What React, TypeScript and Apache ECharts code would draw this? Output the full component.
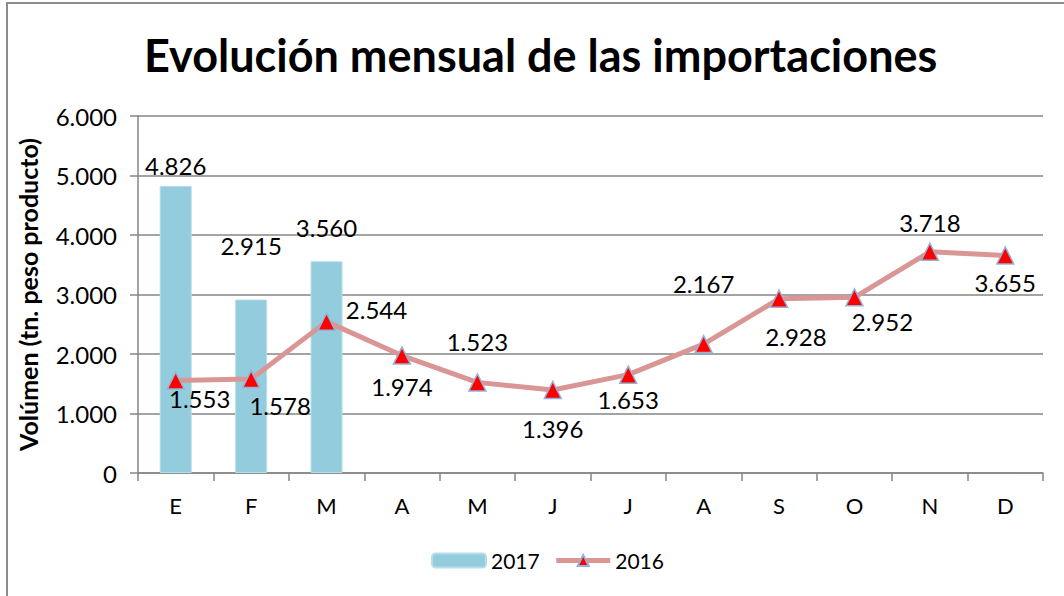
import React, { useEffect, useRef } from "react";
import * as echarts from "echarts";

const months = ["E", "F", "M", "A", "M", "J", "J", "A", "S", "O", "N", "D"];
const values2017 = [4826, 2915, 3560];
const values2016 = [1553, 1578, 2544, 1974, 1523, 1396, 1653, 2167, 2928, 2952, 3718, 3655];
const yTicks = [0, 1000, 2000, 3000, 4000, 5000, 6000];

// label placement (style only)
const barLabelOffsets = [[0, 4], [0, -30], [0, -10]];
const lineLabelPos: [string, number, number][] = [
  ["bottom", 24, -11],
  ["bottom", 29, -3],
  ["right", 2, -12],
  ["bottom", 0, 2],
  ["top", 0, -12],
  ["bottom", 0, 9],
  ["bottom", 0, -4],
  ["top", 0, -31],
  ["bottom", 17, 8],
  ["bottom", 28, -5],
  ["top", 0, 0],
  ["bottom", 0, -2],
];

const fmt = (v: number) => {
  const s = String(Math.round(v));
  return s.replace(/\B(?=(\d{3})+(?!\d))/g, ".");
};

const FONT = "Lato, 'Open Sans', sans-serif";

export default function App() {
  const ref = useRef<HTMLDivElement>(null);
  useEffect(() => {
    if (!ref.current) return;
    const chart = echarts.init(ref.current, null, { renderer: "svg" });
    chart.setOption({
      animation: false,
      backgroundColor: "#ffffff",
      textStyle: { fontFamily: FONT },
      title: {
        text: "Evolución mensual de las importaciones",
        left: 139,
        top: 27,
        textStyle: { fontSize: 45, fontWeight: "bold", color: "#000", fontFamily: FONT },
      },
      graphic: [
        {
          type: "rect",
          shape: { x: 7, y: 3, width: 1200, height: 800 },
          style: { fill: "none", stroke: "#8c8c8c", lineWidth: 2 },
          silent: true,
        },
      ],
      legend: {
        bottom: 20,
        left: 426,
        itemWidth: 54,
        itemHeight: 14,
        itemGap: 14,
        textStyle: { fontSize: 21, color: "#000", fontFamily: FONT },
        data: [
          { name: "2017" },
          { name: "2016", lineStyle: { width: 5, color: "#D99694" } },
        ],
      },
      grid: { left: 138, right: 21, top: 116, bottom: 123, containLabel: false },
      xAxis: {
        type: "category",
        data: months,
        axisLine: { lineStyle: { color: "#868686", width: 1.5 } },
        axisTick: { show: true, length: 8, lineStyle: { color: "#868686", width: 1.5 } },
        axisLabel: { fontSize: 22, color: "#000", margin: 21, fontFamily: FONT },
      },
      yAxis: {
        type: "value",
        min: 0,
        max: 6000,
        interval: 1000,
        name: "Volúmen (tn. peso producto)",
        nameLocation: "middle",
        nameGap: 98,
        nameTextStyle: { fontSize: 25, fontWeight: "bold", color: "#000", fontFamily: FONT },
        axisLine: { show: true, lineStyle: { color: "#868686", width: 1.5 } },
        axisTick: { show: true, length: 8, lineStyle: { color: "#868686", width: 1.5 } },
        splitLine: { lineStyle: { color: "#868686", width: 1.5 } },
        axisLabel: {
          fontSize: 24,
          color: "#000",
          margin: 21,
          fontFamily: FONT,
          formatter: (v: number) => (yTicks.includes(v) ? fmt(v) : ""),
        },
      },
      series: [
        {
          name: "2017",
          type: "bar",
          barWidth: 32,
          itemStyle: { color: "#93CDDD", borderColor: "#B7DEE8", borderWidth: 1 },
          data: values2017.map((v, i) => ({
            value: v,
            label: {
              show: true,
              position: "top",
              distance: 12,
              offset: barLabelOffsets[i],
              fontSize: 24,
              color: "#000",
              fontFamily: FONT,
              formatter: (p: any) => fmt(p.value),
            },
          })),
        },
        {
          name: "2016",
          type: "line",
          symbol: "triangle",
          symbolSize: 17,
          lineStyle: { color: "#D99694", width: 5 },
          itemStyle: { color: "#FF0000", borderColor: "#95B3D7", borderWidth: 1.5 },
          data: values2016.map((v, i) => ({
            value: v,
            label: {
              show: true,
              position: lineLabelPos[i][0],
              offset: [lineLabelPos[i][1], lineLabelPos[i][2]],
              distance: 8,
              fontSize: 24,
              color: "#000",
              fontFamily: FONT,
              formatter: (p: any) => fmt(p.value),
            },
          })),
        },
      ],
    });
    return () => chart.dispose();
  }, []);
  return (
    <div
      ref={ref}
      style={{ position: "fixed", left: 0, top: 0, width: 1064, height: 596 }}
    />
  );
}
